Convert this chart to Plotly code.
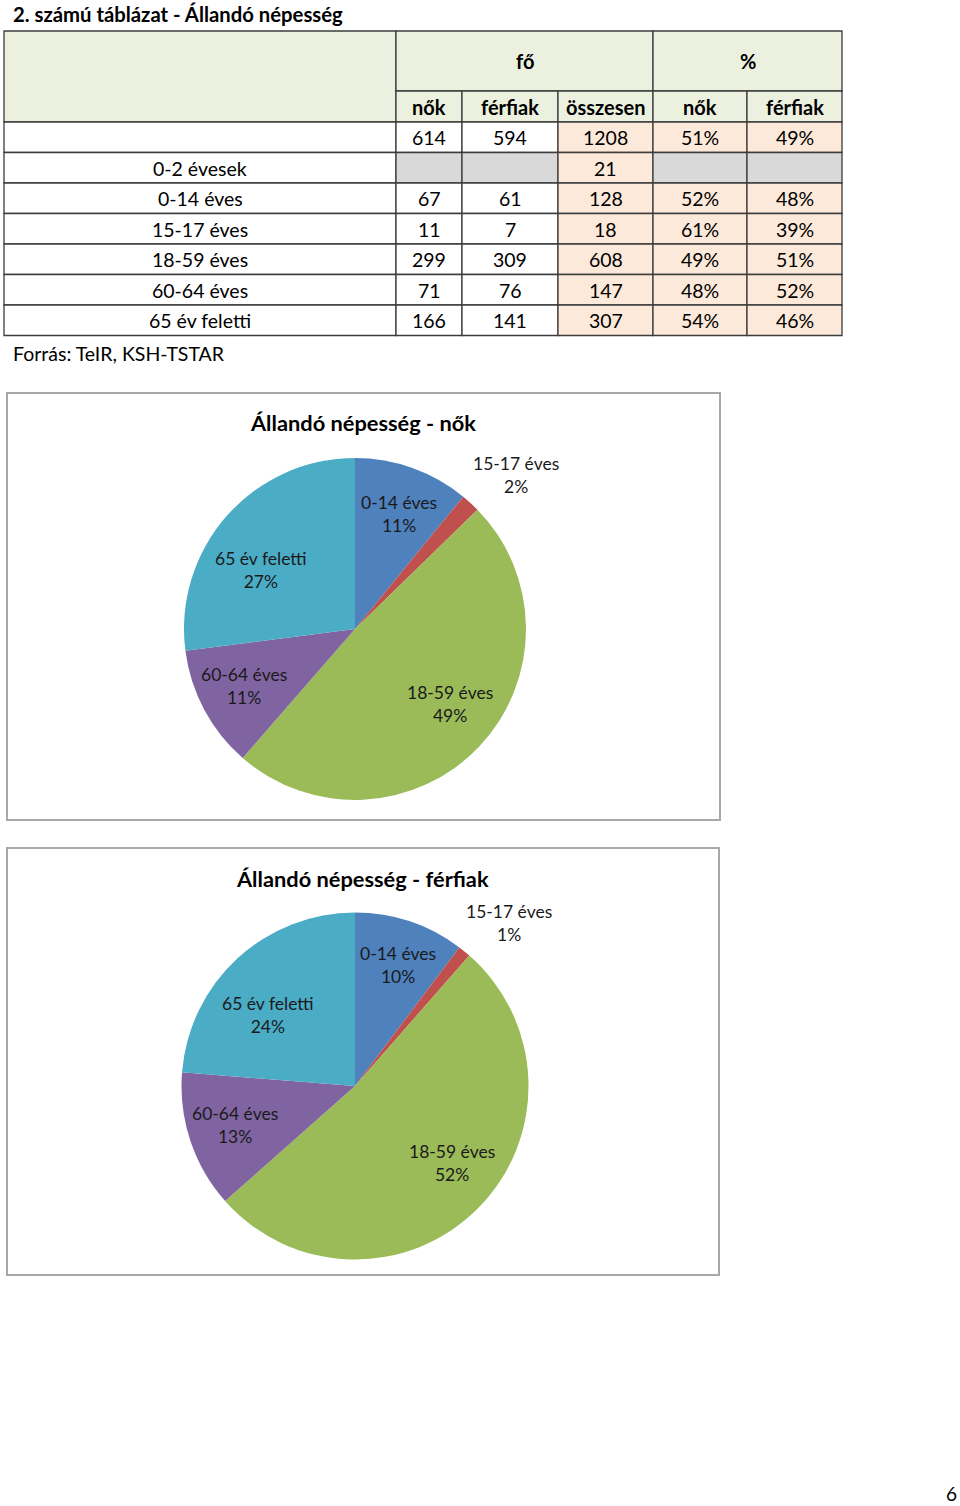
import plotly.graph_objects as go

# ---------------- data ----------------
title_text = "2. számú táblázat - Állandó népesség"
source_text = "Forrás: TeIR, KSH-TSTAR"
group_headers = ["fő", "%"]
group_spans = [3, 2]
col_headers = ["nők", "férfiak", "összesen", "nők", "férfiak"]

row_labels = ["", "0-2 évesek", "0-14 éves", "15-17 éves", "18-59 éves", "60-64 éves", "65 év feletti"]
nok = [614, None, 67, 11, 299, 71, 166]
ferfiak = [594, None, 61, 7, 309, 76, 141]
osszesen = [1208, 21, 128, 18, 608, 147, 307]
nok_pct = ["51%", None, "52%", "61%", "49%", "48%", "54%"]
ferfi_pct = ["49%", None, "48%", "39%", "51%", "52%", "46%"]

pie_labels = ["0-14 éves", "15-17 éves", "18-59 éves", "60-64 éves", "65 év feletti"]
nok_vals = [67, 11, 299, 71, 166]
ferfi_vals = [61, 7, 309, 76, 141]
nok_pct_labels = ["11%", "2%", "49%", "11%", "27%"]
ferfi_pct_labels = ["10%", "1%", "52%", "13%", "24%"]
chart_titles = ["Állandó népesség - nők", "Állandó népesség - férfiak"]
page_number = "6"

# ---------------- styles / layout ----------------
W, H = 960, 1506
FONT = "Lato"
TXT = "#000000"
BORDER = "#3c3c3c"
GREEN_HDR = "#EBF1DE"
PEACH = "#FDE9D9"
GREY = "#D9D9D9"
slice_colors = ["#4F81BD", "#C0504D", "#9BBB59", "#8064A2", "#4BACC6"]

col_x = [4, 396, 462, 558, 653, 747, 842]
hdr_y = [31, 91, 122]
row_y = [122, 152.5, 183, 213.5, 244, 274.5, 305, 335.5]


def px(x):
    return x / W


def py(y):
    return 1 - y / H


shapes = []
annotations = []


def rect(x0, y0, x1, y1, fill, line_color=BORDER, lw=1.3):
    shapes.append(dict(type="rect", xref="paper", yref="paper",
                       x0=px(x0), x1=px(x1), y0=py(y1), y1=py(y0),
                       fillcolor=fill, line=dict(color=line_color, width=lw), layer="below"))


def text(x, y, s, size=19.5, bold=False, xanchor="center", color=TXT):
    if bold:
        s = "<b>" + s + "</b>"
    annotations.append(dict(xref="paper", yref="paper", x=px(x), y=py(y), text=s,
                            showarrow=False, xanchor=xanchor, yanchor="middle",
                            font=dict(family=FONT, size=size, color=color)))


# title
text(11, 14, title_text, size=20.3, bold=True, xanchor="left")

# header
rect(col_x[0], hdr_y[0], col_x[1], hdr_y[2], GREEN_HDR)
ci = 1
for g, span in zip(group_headers, group_spans):
    rect(col_x[ci], hdr_y[0], col_x[ci + span], hdr_y[1], GREEN_HDR)
    text((col_x[ci] + col_x[ci + span]) / 2, (hdr_y[0] + hdr_y[1]) / 2, g, size=20, bold=True)
    ci += span
for i, h in enumerate(col_headers):
    rect(col_x[i + 1], hdr_y[1], col_x[i + 2], hdr_y[2], GREEN_HDR)
    text((col_x[i + 1] + col_x[i + 2]) / 2, (hdr_y[1] + hdr_y[2]) / 2, h, size=20, bold=True)

# body
columns = [nok, ferfiak, osszesen, nok_pct, ferfi_pct]
base_fill = ["white", "white", PEACH, PEACH, PEACH]
for r, lab in enumerate(row_labels):
    y0, y1 = row_y[r], row_y[r + 1]
    yc = (y0 + y1) / 2 + 0.5
    rect(col_x[0], y0, col_x[1], y1, "white")
    if lab:
        text((col_x[0] + col_x[1]) / 2, yc, lab)
    for c, col in enumerate(columns):
        v = col[r]
        fill = GREY if v is None else base_fill[c]
        rect(col_x[c + 1], y0, col_x[c + 2], y1, fill)
        if v is not None:
            text((col_x[c + 1] + col_x[c + 2]) / 2, yc, str(v))

text(11, 353, source_text, xanchor="left")

# chart boxes
boxes = [(7, 393, 720, 820), (7, 848, 719, 1275)]
for b in boxes:
    rect(b[0], b[1], b[2], b[3], "white", line_color="#a8a8a8", lw=2)

pie_specs = [
    dict(vals=nok_vals, pcts=nok_pct_labels, cx=355, cy=629, r=171, title_xy=(363, 423),
         label_xy=[(399, 514), (516, 475), (450, 704), (244, 686), (261, 570)]),
    dict(vals=ferfi_vals, pcts=ferfi_pct_labels, cx=355, cy=1086, r=173.5, title_xy=(362, 878),
         label_xy=[(398, 965), (509, 923), (452, 1163), (235, 1125), (268, 1015)]),
]

fig = go.Figure()
for spec, ttl in zip(pie_specs, chart_titles):
    cx, cy, r = spec["cx"], spec["cy"], spec["r"]
    fig.add_trace(go.Pie(
        labels=pie_labels, values=spec["vals"], sort=False, direction="clockwise",
        rotation=0, marker=dict(colors=slice_colors, line=dict(width=0)),
        textinfo="none", hoverinfo="label+percent", showlegend=False,
        domain=dict(x=[px(cx - r), px(cx + r)], y=[py(cy + r), py(cy - r)]),
    ))
    text(spec["title_xy"][0], spec["title_xy"][1], ttl, size=21.8, bold=True)
    for lab, pct, (lx, ly) in zip(pie_labels, spec["pcts"], spec["label_xy"]):
        text(lx, ly, lab + "<br>" + pct, size=17.5, color="#1a1a1a")

text(951, 1493, page_number, size=19)

fig.update_layout(
    width=W, height=H, margin=dict(l=0, r=0, t=0, b=0),
    paper_bgcolor="white", plot_bgcolor="white",
    shapes=shapes, annotations=annotations, showlegend=False,
)
fig.write_html(
    "out.html",
    config={"displayModeBar": False},
    post_script="document.body.style.margin='0';document.body.style.overflow='hidden';",
)
